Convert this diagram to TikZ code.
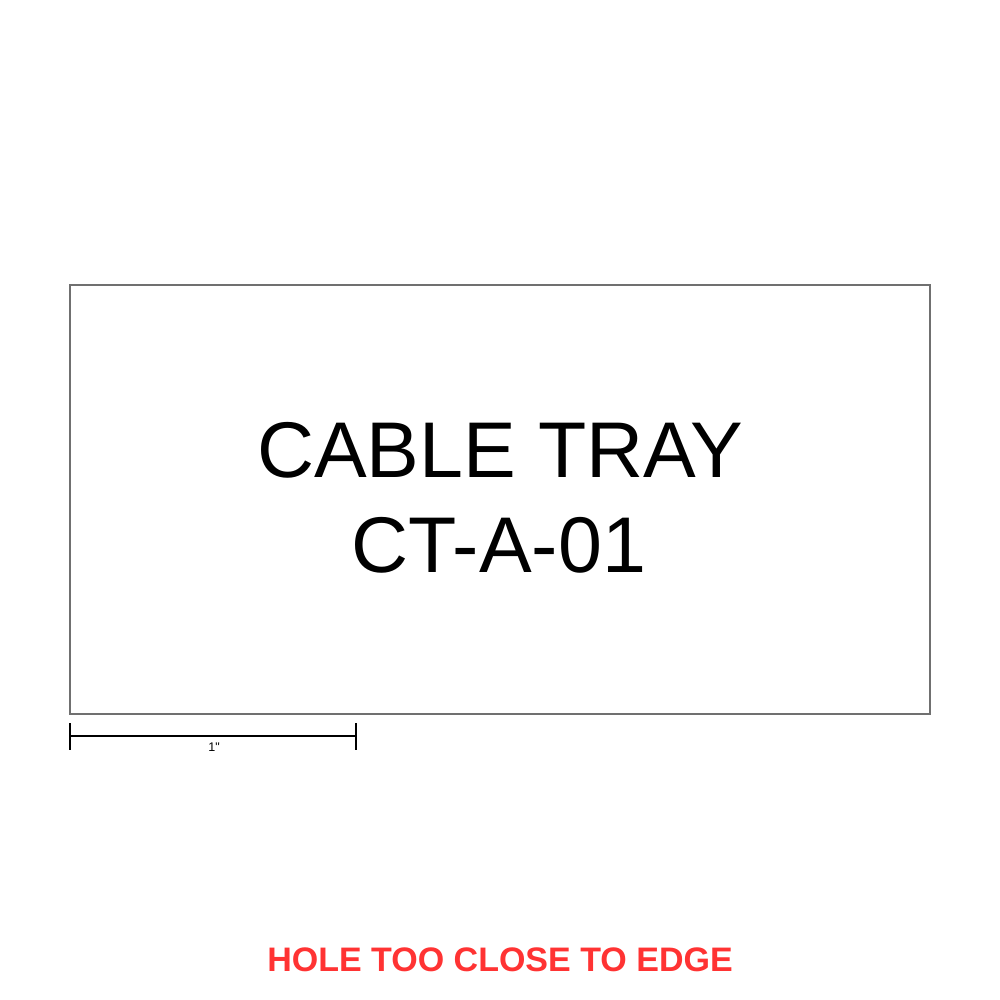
\documentclass[tikz,border=0pt]{standalone}
\usepackage{fontspec}
\setmainfont{Liberation Sans}
\newfontfamily\plainfont{Liberation Sans}
\definecolor{warnred}{HTML}{FF3333}
\definecolor{edgegray}{HTML}{707070}
\begin{document}
\begin{tikzpicture}[x=1pt,y=-1pt,
  label/.style={inner sep=0pt,anchor=base,font=\fontsize{79}{79}\selectfont},
  barline/.style={line width=2.2pt,black},
  panel/.style={draw=edgegray,line width=1.2pt}]
\useasboundingbox[fill=white] (0,0) rectangle (1000,1000);
\draw[panel] (70,285) rectangle (930,714);
\node[label] (l1) at (500,477) {CABLE TRAY};
\node[label] (l2) at (499,572) {CT-A-01};
\coordinate (bl) at (70,736);
\coordinate (br) at (356,736);
\draw[barline] (bl) -- (br);
\draw[barline] ([yshift=-13.5pt]bl) -- ([yshift=13.5pt]bl);
\draw[barline] ([yshift=-13.5pt]br) -- ([yshift=13.5pt]br);
\node[inner sep=0pt,anchor=base,font=\plainfont\fontsize{12.5}{12.5}\selectfont] (scl) at (214,751) {1"};
\node[inner sep=0pt,anchor=base,text=warnred,font=\fontsize{34}{34}\selectfont\bfseries] (warn) at (500,971) {HOLE TOO CLOSE TO EDGE};
\end{tikzpicture}
\end{document}
